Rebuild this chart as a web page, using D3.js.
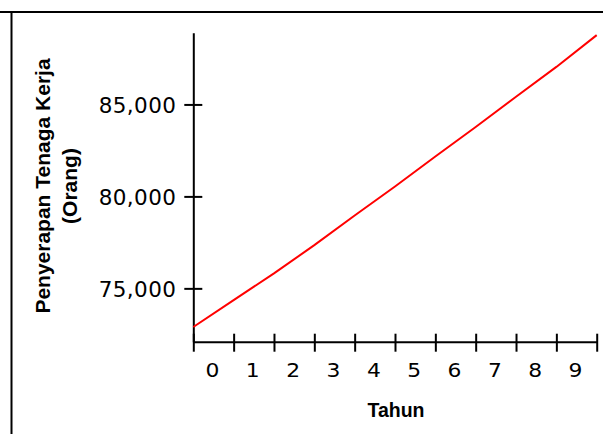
<!DOCTYPE html>
<html>
<head>
<meta charset="utf-8">
<script src="https://cdn.jsdelivr.net/npm/d3@7/dist/d3.min.js"></script>
<style>
  html, body { margin: 0; padding: 0; background: #fff; }
  svg { display: block; }
</style>
</head>
<body>
<svg id="chart" width="603" height="434"></svg>
<script>
// Simulation time steps (line vertices) and the year labels shown under the axis
const timeSteps = [0, 1, 2, 3, 4, 5, 6, 7, 8, 9, 10];
const workforce = [72900, 74360, 75815, 77350, 78960, 80540, 82170, 83770, 85420, 87040, 88770];
const yearLabels = ["0", "1", "2", "3", "4", "5", "6", "7", "8", "9"];
const yTickValues = [75000, 80000, 85000];

const svg = d3.select("#chart");
const W = 603, H = 434;

// frame lines along the top and left edges
svg.append("line").attr("x1", 0).attr("x2", W).attr("y1", 12).attr("y2", 12)
  .attr("stroke", "#000").attr("stroke-width", 2);
svg.append("line").attr("x1", 11.5).attr("x2", 11.5).attr("y1", 12).attr("y2", H)
  .attr("stroke", "#000").attr("stroke-width", 2);

const x = d3.scaleLinear().domain([0, 10]).range([193.3, 596.7]);
const y = d3.scaleLinear().domain([72100, 88900]).range([341.7, 32.7]);

// y axis: ticks cross the axis line
const yAxis = svg.append("g").attr("transform", `translate(${x(0)},0)`)
  .call(d3.axisLeft(y).tickValues(yTickValues).tickSize(9).tickSizeOuter(0)
    .tickFormat(d3.format(",")));
yAxis.select(".domain").attr("stroke", "#000").attr("stroke-width", 2);
yAxis.selectAll(".tick line").attr("x2", 9).attr("x1", -9)
  .attr("stroke", "#000").attr("stroke-width", 2);
yAxis.selectAll(".tick text")
  .attr("x", -17).attr("dy", "0.36em")
  .attr("font-family", "DejaVu Sans, Verdana, sans-serif")
  .attr("font-size", 21.5).attr("letter-spacing", 0.4).attr("fill", "#000");

// x axis: ticks on every time step, year labels centred between ticks
const xAxis = svg.append("g").attr("transform", `translate(0,${y(72100)})`)
  .call(d3.axisBottom(x).tickValues(timeSteps).tickSize(9).tickSizeOuter(0)
    .tickFormat(""));
xAxis.select(".domain").attr("stroke", "#000").attr("stroke-width", 2);
xAxis.selectAll(".tick line").attr("y1", -8).attr("y2", 10)
  .attr("stroke", "#000").attr("stroke-width", 2);
xAxis.selectAll(".year").data(yearLabels).enter().append("text")
  .attr("class", "year")
  .attr("transform", (d, i) => `translate(${x(i + 0.5) - 1},35) scale(1.12,1)`)
  .attr("text-anchor", "middle")
  .attr("font-family", "DejaVu Sans, Verdana, sans-serif")
  .attr("font-size", 19.5).attr("fill", "#000")
  .text(d => d);

// series line
const line = d3.line().x((d, i) => x(timeSteps[i])).y(d => y(d));
svg.append("path").datum(workforce)
  .attr("d", line)
  .attr("fill", "none")
  .attr("stroke", "#ff0000")
  .attr("stroke-width", 2);

// axis titles
svg.append("text")
  .attr("x", 396).attr("y", 417)
  .attr("text-anchor", "middle")
  .attr("font-family", "Liberation Sans, Arial, sans-serif")
  .attr("font-weight", "bold").attr("font-size", 19.5)
  .text("Tahun");

const yTitle = svg.append("text")
  .attr("transform", "translate(0,186) rotate(-90)")
  .attr("text-anchor", "middle")
  .attr("font-family", "Liberation Sans, Arial, sans-serif")
  .attr("font-weight", "bold").attr("font-size", 21);
yTitle.append("tspan").attr("x", 0).attr("y", 50).text("Penyerapan Tenaga Kerja");
yTitle.append("tspan").attr("x", 0).attr("y", 77).text("(Orang)");
</script>
</body>
</html>
